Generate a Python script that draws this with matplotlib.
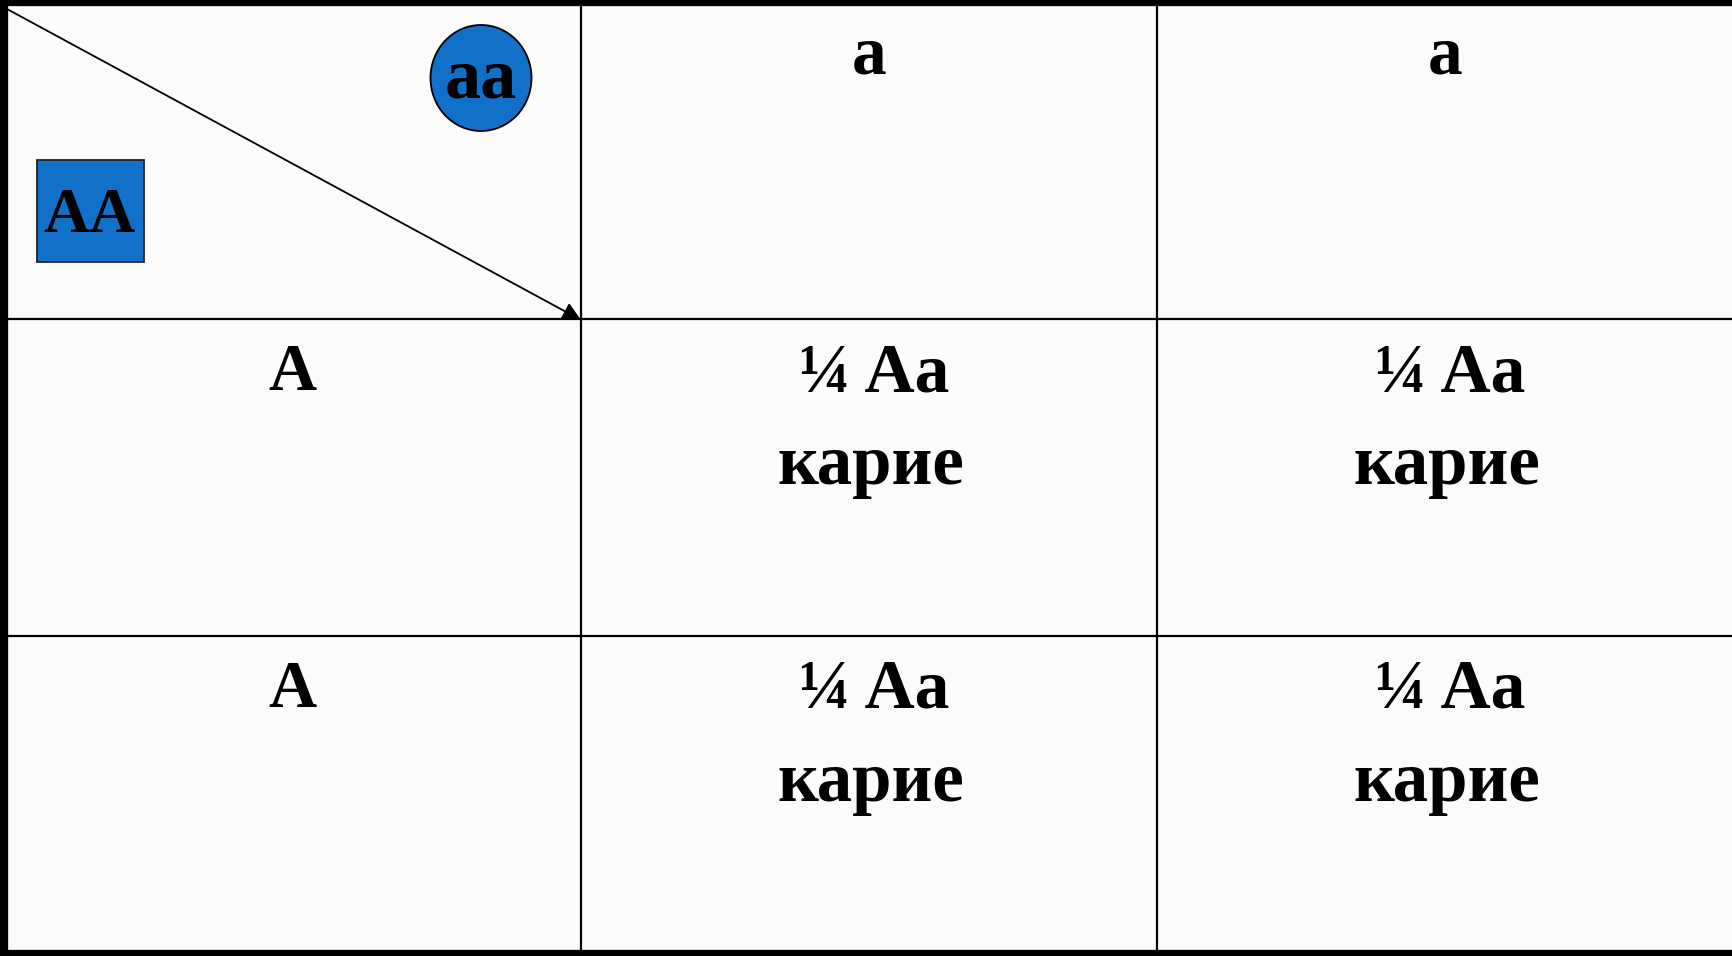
import matplotlib.pyplot as plt
from matplotlib.patches import Ellipse, Rectangle

# table content
col_gametes = ['a', 'a']
row_gametes = ['A', 'A']
fractions = [['¼ Aa', '¼ Aa'],
             ['¼ Aa', '¼ Aa']]
phenotypes = [['карие', 'карие'],
              ['карие', 'карие']]
mother = 'aa'
father = 'AA'

W, H = 1733, 956
col_x = [8, 581, 1157, 1733]
row_y = [6, 319, 636, 950]
blue = '#1170c8'
font = dict(family=['Liberation Serif', 'DejaVu Serif'], weight='bold',
            color='black')

fig = plt.figure(figsize=(W / 100, H / 100), dpi=100)
ax = fig.add_axes([0, 0, 1, 1])
ax.set_xlim(0, W)
ax.set_ylim(H, 0)
ax.axis('off')
ax.add_patch(Rectangle((0, 0), W, H, facecolor='#fbfbfb', edgecolor='none'))

# grid
for x in col_x[1:-1]:
    ax.plot([x, x], [row_y[0], row_y[-1]], color='black', lw=1.6)
for y in row_y[1:-1]:
    ax.plot([col_x[0], W], [y, y], color='black', lw=1.6)
# outer border (left, top, bottom)
ax.plot([4, 4], [0, H], color='black', lw=6)
ax.plot([0, W - 4], [3, 3], color='black', lw=4.5)
ax.plot([0, W], [953, 953], color='black', lw=4.5)

# diagonal arrow in corner cell
ax.annotate('', xy=(col_x[1], row_y[1] + 1), xytext=(col_x[0] - 1, 9),
            arrowprops=dict(arrowstyle='-|>', color='black', lw=1.3,
                            mutation_scale=28, shrinkA=0, shrinkB=0))

# parents
ax.add_patch(Ellipse((481, 78), 101, 106, facecolor=blue,
                     edgecolor='black', lw=1.3))
ax.text(481, 97, mother, ha='center', va='baseline', fontsize=52, **font)
ax.add_patch(Rectangle((37, 160), 107, 102, facecolor=blue,
                       edgecolor='#222222', lw=1.3))
ax.text(90, 232, father, ha='center', va='baseline', fontsize=46, **font)

# headers
for j, g in enumerate(col_gametes):
    xc = (col_x[j + 1] + col_x[j + 2]) / 2
    ax.text(xc, 73, g, ha='center', va='baseline', fontsize=50, **font)
for i, g in enumerate(row_gametes):
    ax.text(292, row_y[i + 1] + 71, g, ha='center', va='baseline',
            fontsize=48, **font)

# offspring
for i in range(2):
    for j in range(2):
        xc = (col_x[j + 1] + col_x[j + 2]) / 2 + 2
        ax.text(xc + 3, row_y[i + 1] + 72, fractions[i][j], ha='center',
                va='baseline', fontsize=50, **font)
        ax.text(xc, row_y[i + 1] + 165, phenotypes[i][j], ha='center',
                va='baseline', fontsize=51, **font)

fig.savefig('out.png', dpi=100)
